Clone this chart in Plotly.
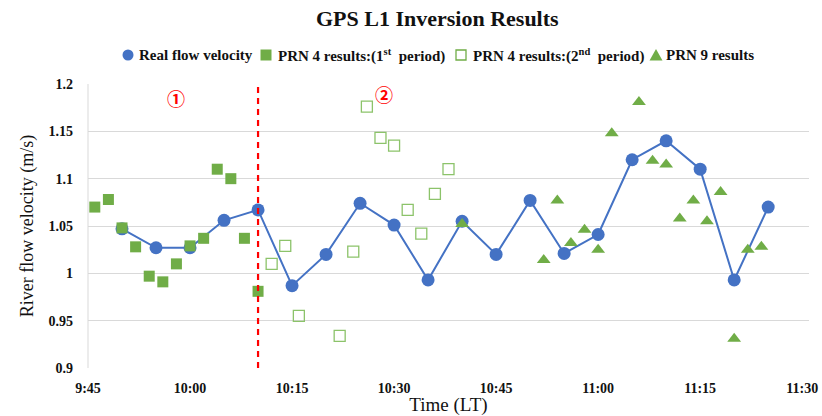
import plotly.graph_objects as go

DAY = "2021-01-01 "

# Real (measured) flow velocity, every 5 minutes
real_times = ["09:50", "09:55", "10:00", "10:05", "10:10", "10:15", "10:20", "10:25",
              "10:30", "10:35", "10:40", "10:45", "10:50", "10:55", "11:00", "11:05",
              "11:10", "11:15", "11:20", "11:25"]
real_vals = [1.047, 1.027, 1.027, 1.056, 1.067, 0.987, 1.020, 1.074,
             1.051, 0.993, 1.055, 1.020, 1.077, 1.021, 1.041, 1.120,
             1.140, 1.110, 0.993, 1.070]

# PRN 4 retrievals, first period
prn4a_times = ["09:46", "09:48", "09:50", "09:52", "09:54", "09:56", "09:58",
               "10:00", "10:02", "10:04", "10:06", "10:08", "10:10"]
prn4a_vals = [1.070, 1.078, 1.048, 1.028, 0.997, 0.991, 1.010,
              1.029, 1.037, 1.110, 1.100, 1.037, 0.981]

# PRN 4 retrievals, second period
prn4b_times = ["10:12", "10:14", "10:16", "10:22", "10:24", "10:26", "10:28",
               "10:30", "10:32", "10:34", "10:36", "10:38"]
prn4b_vals = [1.010, 1.029, 0.955, 0.934, 1.023, 1.176, 1.143,
              1.135, 1.067, 1.042, 1.084, 1.110]

# PRN 9 retrievals
prn9_times = ["10:40", "10:52", "10:54", "10:56", "10:58", "11:00", "11:02", "11:06",
              "11:08", "11:10", "11:12", "11:14", "11:16", "11:18", "11:20", "11:22",
              "11:24"]
prn9_vals = [1.052, 1.014, 1.077, 1.032, 1.046, 1.025, 1.148, 1.181,
             1.119, 1.115, 1.058, 1.077, 1.055, 1.086, 0.931, 1.025,
             1.028]

x_ticks = ["09:45", "10:00", "10:15", "10:30", "10:45", "11:00", "11:15", "11:30"]
x_tick_text = ["9:45", "10:00", "10:15", "10:30", "10:45", "11:00", "11:15", "11:30"]
y_ticks = [0.9, 0.95, 1.0, 1.05, 1.1, 1.15, 1.2]
y_tick_text = ["0.9", "0.95", "1", "1.05", "1.1", "1.15", "1.2"]

period_split = "10:10"
period_labels = [("①", "09:58", 1.185), ("②", "10:28:30", 1.189)]

series_names = ["Real flow velocity",
                "PRN 4 results:(1<sup>st</sup>\u00a0 period)",
                "PRN 4 results:(2<sup>nd</sup>\u00a0 period)",
                "PRN 9 results"]

BLUE = "#4472C4"
GREEN = "#70AD47"
LIGHT_GREEN = "#8CC36A"
TEXT = "#111111"
SERIF = "Liberation Serif, Times New Roman, serif"

# plot-area geometry (pixels)
W, H = 822, 416
ML, MR, MT, MB = 88, 13, 84, 48
PW, PH = W - ML - MR, H - MT - MB


def ts(hhmm):
    return DAY + hhmm


def px_to_paper_x(px):
    return (px - ML) / PW


def py_to_paper_y(py):
    return (H - MB - py) / PH


fig = go.Figure()

fig.add_trace(go.Scatter(
    x=[ts(t) for t in real_times], y=real_vals, name=series_names[0],
    mode="lines+markers",
    line=dict(color=BLUE, width=2),
    marker=dict(symbol="circle", size=13, color=BLUE),
))
fig.add_trace(go.Scatter(
    x=[ts(t) for t in prn4a_times], y=prn4a_vals, name=series_names[1],
    mode="markers",
    marker=dict(symbol="square", size=11, color=GREEN),
))
fig.add_trace(go.Scatter(
    x=[ts(t) for t in prn4b_times], y=prn4b_vals, name=series_names[2],
    mode="markers",
    marker=dict(symbol="square-open", size=11, color=LIGHT_GREEN, line=dict(width=1.3)),
))
fig.add_trace(go.Scatter(
    x=[ts(t) for t in prn9_times], y=prn9_vals, name=series_names[3],
    mode="markers",
    marker=dict(symbol="triangle-up", size=12, color=GREEN),
))

# boundary between the two PRN 4 periods
fig.add_shape(type="line", xref="x", yref="paper",
              x0=ts(period_split), x1=ts(period_split), y0=0, y1=1,
              line=dict(color="#FF0000", width=2.2, dash="6px,5px"))

for txt, tx, ty in period_labels:
    fig.add_annotation(x=ts(tx), y=ty, text=txt, showarrow=False,
                       font=dict(family="Noto Sans CJK SC", size=18, color="#FF0000",
                                 weight="bold"))

# compact legend row: swatch + bold label for each series
legend_y = py_to_paper_y(55)
legend_swatch_px = [128, 266, 461, 656]
legend_text_px = [137, 276, 471, 664]
for i, name in enumerate(series_names):
    fig.add_annotation(xref="paper", yref="paper",
                       x=px_to_paper_x(legend_text_px[i]), y=legend_y,
                       xanchor="left", yanchor="middle", showarrow=False,
                       text="<b>" + name + "</b>",
                       font=dict(family=SERIF, size=15, color=TEXT))

sw = dict(xref="paper", yref="paper", xsizemode="pixel", ysizemode="pixel",
          yanchor=legend_y)
fig.add_shape(type="circle", xanchor=px_to_paper_x(legend_swatch_px[0]),
              x0=-5.5, x1=5.5, y0=-5.5, y1=5.5,
              fillcolor=BLUE, line=dict(width=0), **sw)
fig.add_shape(type="rect", xanchor=px_to_paper_x(legend_swatch_px[1]),
              x0=-5.5, x1=5.5, y0=-5.5, y1=5.5,
              fillcolor=GREEN, line=dict(width=0), **sw)
fig.add_shape(type="rect", xanchor=px_to_paper_x(legend_swatch_px[2]),
              x0=-5, x1=5, y0=-5, y1=5,
              fillcolor="white", line=dict(color=GREEN, width=1.3), **sw)
fig.add_shape(type="path", xanchor=px_to_paper_x(legend_swatch_px[3]),
              path="M-6.5,-5.5 L6.5,-5.5 L0,6 Z",
              fillcolor=GREEN, line=dict(width=0), **sw)

fig.update_layout(
    width=W, height=H,
    margin=dict(l=ML, r=MR, t=MT, b=MB),
    paper_bgcolor="white", plot_bgcolor="white",
    title=dict(text="<b>GPS L1 Inversion Results</b>", x=0.532, xanchor="center",
               y=0.955, yanchor="middle",
               font=dict(family=SERIF, size=22, color=TEXT)),
    showlegend=False,
)

fig.update_xaxes(
    type="date", automargin=False,
    range=[ts("09:45"), ts("11:31")],
    tickvals=[ts(t) for t in x_ticks], ticktext=x_tick_text,
    tickfont=dict(family=SERIF, size=14, color=TEXT, weight="bold"),
    showgrid=False, zeroline=False, showline=False,
    ticks="", ticklabelstandoff=10,
    title=dict(text="Time (LT)", font=dict(family=SERIF, size=19, color=TEXT),
               standoff=2),
)
fig.update_yaxes(
    range=[0.9, 1.2], automargin=False,
    tickvals=y_ticks, ticktext=y_tick_text,
    tickfont=dict(family=SERIF, size=14, color=TEXT, weight="bold"),
    showgrid=True, gridcolor="#D9D9D9", gridwidth=1,
    zeroline=False, showline=False,
    ticks="", ticklabelstandoff=14,
    title=dict(text="River flow velocity (m/s)",
               font=dict(family=SERIF, size=18, color=TEXT), standoff=10),
)

# thin left border of the plot area
fig.add_shape(type="line", xref="paper", yref="paper", x0=0, x1=0, y0=0, y1=1,
              line=dict(color="#D9D9D9", width=1), layer="below")

fig.write_html("out.html")
